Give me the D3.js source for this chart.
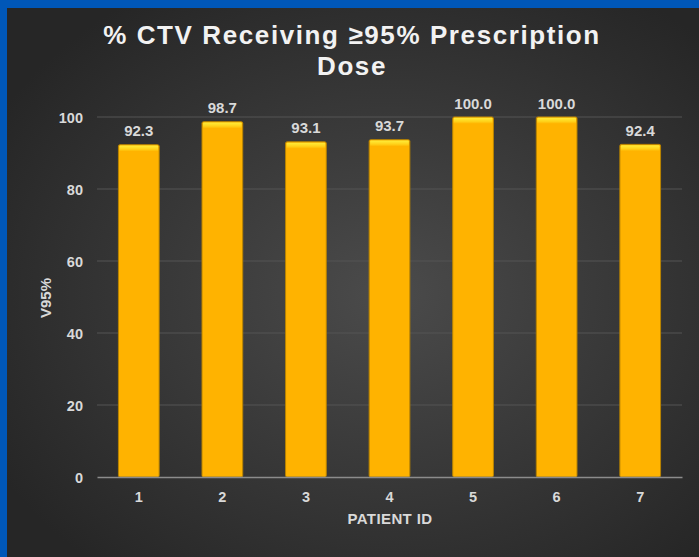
<!DOCTYPE html>
<html>
<head>
<meta charset="utf-8">
<script src="https://cdn.jsdelivr.net/npm/d3@7"></script>
<style>
  html, body { margin: 0; padding: 0; background: #0057b8; }
  svg { display: block; }
</style>
</head>
<body>
<svg id="chart" width="699" height="557"></svg>
<script>
// Chart data
const patients = ["1", "2", "3", "4", "5", "6", "7"];
const v95 = [92.3, 98.7, 93.1, 93.7, 100.0, 100.0, 92.4];
const yTicks = [0, 20, 40, 60, 80, 100];
const titleLines = ["% CTV Receiving \u226595% Prescription", "Dose"];

const W = 699, H = 557;
const FONT = "'Liberation Sans', Arial, sans-serif";
const svg = d3.select("#chart");
const defs = svg.append("defs");

// Background: blue frame on left/top, dark radial panel
const bg = defs.append("radialGradient").attr("id", "bg")
  .attr("cx", "55%").attr("cy", "52%").attr("r", "65%");
bg.append("stop").attr("offset", "0%").attr("stop-color", "#4b4b4b");
bg.append("stop").attr("offset", "100%").attr("stop-color", "#262626");

svg.append("rect").attr("width", W).attr("height", H).attr("fill", "#0057b8");
svg.append("rect").attr("x", 7).attr("y", 8).attr("width", W - 7).attr("height", H - 8)
  .attr("fill", "url(#bg)");

// Bar top bevel
const barGrad = defs.append("linearGradient").attr("id", "barTop")
  .attr("x1", 0).attr("y1", 0).attr("x2", 0).attr("y2", 1);
barGrad.append("stop").attr("offset", "0%").attr("stop-color", "#ffec3a");
barGrad.append("stop").attr("offset", "60%").attr("stop-color", "#ffd21a");
barGrad.append("stop").attr("offset", "100%").attr("stop-color", "#ffb300");

const x = d3.scaleBand().domain(patients).range([97, 682]).paddingInner(0.513).paddingOuter(0.2565);
const y = d3.scaleLinear().domain([0, 100]).range([477, 117]);

// Gridlines
svg.append("g").selectAll("line").data(yTicks.filter(d => d > 0)).join("line")
  .attr("x1", 97).attr("x2", 682)
  .attr("y1", d => y(d)).attr("y2", d => y(d))
  .attr("stroke", "#555555").attr("stroke-width", 1);

// Y axis labels
const yAxis = d3.axisLeft(y).tickValues(yTicks).tickSize(0).tickPadding(0).tickFormat(d3.format("d"));
const gy = svg.append("g").attr("transform", "translate(83,0)").call(yAxis);
gy.select(".domain").remove();
gy.selectAll("text").attr("fill", "#d9d9d9").attr("dy", "0.4em")
  .style("font", `bold 14.5px ${FONT}`);

// Bars
const bars = svg.append("g").selectAll("g").data(patients).join("g");
bars.append("rect")
  .attr("x", d => x(d)).attr("y", (d, i) => y(v95[i]))
  .attr("width", x.bandwidth()).attr("height", (d, i) => y(0) - y(v95[i]))
  .attr("rx", 1.5)
  .attr("fill", "#ffb300").attr("stroke", "#b88300").attr("stroke-width", 1);
bars.append("rect")
  .attr("x", d => x(d) + 1).attr("y", (d, i) => y(v95[i]) + 0.8)
  .attr("width", x.bandwidth() - 2).attr("height", 6)
  .attr("rx", 1)
  .attr("fill", "url(#barTop)");

// Value labels
svg.append("g").selectAll("text").data(patients).join("text")
  .attr("x", d => x(d) + x.bandwidth() / 2)
  .attr("y", (d, i) => y(v95[i]) - 8.5)
  .attr("text-anchor", "middle")
  .attr("fill", "#d9d9d9")
  .style("font", `bold 15px ${FONT}`)
  .text((d, i) => d3.format(".1f")(v95[i]));

// X axis
const xAxis = d3.axisBottom(x).tickSize(0).tickPadding(0);
const gx = svg.append("g").attr("transform", "translate(0,477)").call(xAxis);
gx.select(".domain").attr("stroke", "#8c8c8c").attr("stroke-width", 1.3);
gx.selectAll("text").attr("fill", "#d9d9d9").attr("dy", null).attr("y", 25)
  .style("font", `bold 14.5px ${FONT}`);

// Axis titles
svg.append("text").attr("x", 390).attr("y", 524).attr("text-anchor", "middle")
  .attr("fill", "#d9d9d9").style("font", `bold 15px ${FONT}`)
  .style("letter-spacing", "0.4px")
  .text("PATIENT ID");
svg.append("text").attr("transform", "translate(51,298) rotate(-90)").attr("text-anchor", "middle")
  .attr("fill", "#d9d9d9").style("font", `bold 15px ${FONT}`)
  .text("V95%");

// Title
svg.append("g").selectAll("text").data(titleLines).join("text")
  .attr("x", 352).attr("y", (d, i) => 44 + i * 31)
  .attr("text-anchor", "middle")
  .attr("fill", "#f2f2f2")
  .style("font", `bold 26px ${FONT}`)
  .style("letter-spacing", "1.6px")
  .text(d => d);
</script>
</body>
</html>
